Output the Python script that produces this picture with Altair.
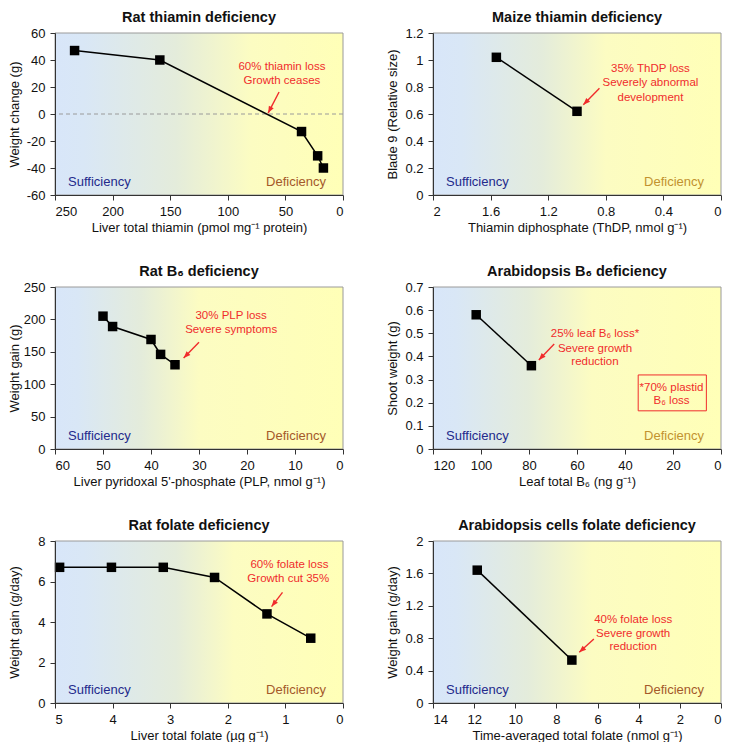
import math
import altair as alt
import pandas as pd

# ---------------- data ----------------
# Panel 1: Rat thiamin deficiency
p1_x = [233, 159, 36, 22, 17]
p1_y = [47, 40, -13, -31, -40]
p1_note_x = [53, 53]
p1_note_y = [34.8, 24.4]
p1_note_t = ["60% thiamin loss", "Growth ceases"]
p1_arrow = [55.5, 16.3, 65, 0.7]  # tail x, tail y, tip x, tip y

# Panel 2: Maize thiamin deficiency
p2_x = [1.56, 1.0]
p2_y = [1.02, 0.62]
p2_note_x = [0.49, 0.49, 0.49]
p2_note_y = [0.934, 0.827, 0.722]
p2_note_t = ["35% ThDP loss", "Severely abnormal", "development"]
p2_arrow = [0.844, 0.79, 0.956, 0.668]

# Panel 3: Rat B6 deficiency
p3_x = [50, 48, 40, 38, 35]
p3_y = [205, 189, 169, 146, 130]
p3_note_x = [23.3, 23.3]
p3_note_y = [204.8, 183.6]
p3_note_t = ["30% PLP loss", "Severe symptoms"]
p3_arrow = [30, 164.6, 33.2, 140.4]

# Panel 4: Arabidopsis B6 deficiency
p4_x = [102, 79]
p4_y = [0.58, 0.36]
p4_note_x = [52.5, 52.5, 52.5]
p4_note_y = [0.497, 0.432, 0.374]
p4_note_t = ["25% leaf B\u2086 loss*", "Severe growth", "reduction"]
p4_arrow = [69.5, 0.454, 75.9, 0.385]
p4_box = [34.5, 0.32, 6.1, 0.165]
p4_box_x = [20.6, 20.6]
p4_box_y = [0.264, 0.207]
p4_box_t = ["*70% plastid", "B\u2086 loss"]

# Panel 5: Rat folate deficiency
p5_x = [4.92, 4.02, 3.12, 2.23, 1.32, 0.56]
p5_y = [6.7, 6.7, 6.7, 6.2, 4.4, 3.2]
p5_note_x = [0.93, 0.95]
p5_note_y = [6.83, 6.12]
p5_note_t = ["60% folate loss", "Growth cut 35%"]
p5_arrow = [1.05, 5.46, 1.24, 4.76]

# Panel 6: Arabidopsis cells folate deficiency
p6_x = [11.85, 7.25]
p6_y = [1.64, 0.53]
p6_note_x = [4.27, 4.27, 4.27]
p6_note_y = [1.028, 0.855, 0.69]
p6_note_t = ["40% folate loss", "Severe growth", "reduction"]
p6_arrow = [6.18, 0.79, 6.89, 0.626]

# ---------------- style ----------------
W, H = 288, 162
FONT = "Liberation Sans"
RED = "#f02c2c"
BLUE_TXT = "#232a8c"
BROWN = "#a4592a"
GOLD = "#c2922f"
ARROW_PATH = "M0,0L0.9,2.3L-0.9,2.3Z"
NOTE_SIZE = 11.5


def gradient(b_end, mid, y_at):
    return {
        "gradient": "linear", "x1": 0, "x2": 1, "y1": 0, "y2": 0,
        "stops": [
            {"offset": 0, "color": "#d8e6f9"},
            {"offset": b_end, "color": "#d9e7f6"},
            {"offset": mid, "color": "#e4ecdb"},
            {"offset": y_at, "color": "#fcfcc2"},
            {"offset": 1, "color": "#ffffb7"},
        ],
    }


def panel(title, xs, ys, xdom, xticks, xtitle, ydom, yticks, ytitle,
          nx, ny, nt, arrow, grad, def_color, xfmt=None, yfmt=None,
          box=None, zero=False):
    xa = dict(values=xticks, title=xtitle, zindex=1)
    ya = dict(values=yticks, title=ytitle, zindex=1,
              labelExpr="replace(datum.label, '\u2212', '-')")
    if xfmt:
        xa["format"] = xfmt
    if yfmt:
        ya["format"] = yfmt
    xe = alt.X("x:Q", scale=alt.Scale(domain=xdom, reverse=True, nice=False, zero=False),
               axis=alt.Axis(**xa))
    ye = alt.Y("y:Q", scale=alt.Scale(domain=ydom, nice=False, zero=False),
               axis=alt.Axis(**ya))
    one = pd.DataFrame({"a": [0]})
    layers = []
    layers.append(alt.Chart(one).mark_rect(fill=grad, stroke="#9a9a9a", strokeWidth=1).encode(
        x=alt.value(0), x2=alt.value("width"), y=alt.value(0), y2=alt.value("height")))
    if zero:
        layers.append(alt.Chart(pd.DataFrame({"y": [0]})).mark_rule(
            color="#9a9a9a", strokeDash=[4, 3], strokeWidth=1).encode(y=ye))
    df = pd.DataFrame({"x": xs, "y": ys})
    layers.append(alt.Chart(df).mark_line(color="black", strokeWidth=1.5).encode(x=xe, y=ye))
    layers.append(alt.Chart(df).mark_point(shape="square", filled=True, size=90,
                                           color="black", opacity=1).encode(x=xe, y=ye))
    ndf = pd.DataFrame({"x": nx, "y": ny, "t": nt})
    layers.append(alt.Chart(ndf).mark_text(color=RED, fontSize=NOTE_SIZE, font=FONT,
                                           align="center", baseline="middle").encode(
        x=xe, y=ye, text="t:N"))
    tx, ty, hx, hy = arrow
    pxx = W / (xdom[1] - xdom[0])
    pxy = H / (ydom[1] - ydom[0])
    dx = -(hx - tx) * pxx
    dy = -(hy - ty) * pxy
    ang = math.degrees(math.atan2(dx, -dy)) % 360
    adf = pd.DataFrame({"x": [tx], "y": [ty], "x2": [hx], "y2": [hy]})
    layers.append(alt.Chart(adf).mark_rule(color=RED, strokeWidth=1.4).encode(
        x=xe, y=ye, x2="x2:Q", y2="y2:Q"))
    hdf = pd.DataFrame({"x": [hx], "y": [hy], "ang": [ang]})
    layers.append(alt.Chart(hdf).mark_point(shape=ARROW_PATH, filled=True, color=RED,
                                            size=36, opacity=1, strokeWidth=0).encode(
        x=xe, y=ye, angle=alt.Angle("ang:Q", scale=None)))
    if box is not None:
        bx1, by1, bx2, by2, bxs, bys, bts = box
        bdf = pd.DataFrame({"x": [bx1], "y": [by1], "x2": [bx2], "y2": [by2]})
        layers.append(alt.Chart(bdf).mark_rect(fillOpacity=0, stroke=RED, strokeWidth=1).encode(
            x=xe, y=ye, x2="x2:Q", y2="y2:Q"))
        btdf = pd.DataFrame({"x": bxs, "y": bys, "t": bts})
        layers.append(alt.Chart(btdf).mark_text(color=RED, fontSize=NOTE_SIZE, font=FONT,
                                                align="center", baseline="middle").encode(
            x=xe, y=ye, text="t:N"))
    layers.append(alt.Chart(one).mark_text(text="Sufficiency", color=BLUE_TXT, fontSize=13,
                                           font=FONT, align="left", baseline="alphabetic").encode(
        x=alt.value(13), y=alt.value(H - 9)))
    layers.append(alt.Chart(one).mark_text(text="Deficiency", color=def_color, fontSize=13,
                                           font=FONT, align="right", baseline="alphabetic").encode(
        x=alt.value(W - 17), y=alt.value(H - 9)))
    return alt.layer(*layers).properties(width=W, height=H, title=title)


c1 = panel("Rat thiamin deficiency", p1_x, p1_y, [0, 250], [0, 50, 100, 150, 200, 250],
           "Liver total thiamin (pmol mg\u207b\u00b9 protein)", [-60, 60],
           [-60, -40, -20, 0, 20, 40, 60], "Weight change (g)",
           p1_note_x, p1_note_y, p1_note_t, p1_arrow, gradient(0.1, 0.42, 0.68), BROWN, zero=True)
c2 = panel("Maize thiamin deficiency", p2_x, p2_y, [0, 2], [0, 0.4, 0.8, 1.2, 1.6, 2],
           "Thiamin diphosphate (ThDP, nmol g\u207b\u00b9)", [0, 1.2],
           [0, 0.2, 0.4, 0.6, 0.8, 1, 1.2], "Blade 9 (Relative size)",
           p2_note_x, p2_note_y, p2_note_t, p2_arrow, gradient(0.1, 0.38, 0.6), GOLD,
           xfmt=".1~f", yfmt=".1~f")
c3 = panel("Rat B\u2086 deficiency", p3_x, p3_y, [0, 60], [0, 10, 20, 30, 40, 50, 60],
           "Liver pyridoxal 5'-phosphate (PLP, nmol g\u207b\u00b9)", [0, 250],
           [0, 50, 100, 150, 200, 250], "Weight gain (g)",
           p3_note_x, p3_note_y, p3_note_t, p3_arrow, gradient(0.08, 0.3, 0.5), BROWN)
c4 = panel("Arabidopsis B\u2086 deficiency", p4_x, p4_y, [0, 120], [0, 20, 40, 60, 80, 100, 120],
           "Leaf total B\u2086 (ng g\u207b\u00b9)", [0, 0.7],
           [0, 0.1, 0.2, 0.3, 0.4, 0.5, 0.6, 0.7], "Shoot weight (g)",
           p4_note_x, p4_note_y, p4_note_t, p4_arrow, gradient(0.08, 0.33, 0.55), GOLD,
           yfmt=".1~f", box=(p4_box[0], p4_box[1], p4_box[2], p4_box[3], p4_box_x, p4_box_y, p4_box_t))
c5 = panel("Rat folate deficiency", p5_x, p5_y, [0, 5], [0, 1, 2, 3, 4, 5],
           "Liver total folate (\u00b5g g\u207b\u00b9)", [0, 8], [0, 2, 4, 6, 8],
           "Weight gain (g/day)",
           p5_note_x, p5_note_y, p5_note_t, p5_arrow, gradient(0.1, 0.42, 0.62), BROWN)
c6 = panel("Arabidopsis cells folate deficiency", p6_x, p6_y, [0, 14], [0, 2, 4, 6, 8, 10, 12, 14],
           "Time-averaged total folate (nmol g\u207b\u00b9)", [0, 2], [0, 0.4, 0.8, 1.2, 1.6, 2],
           "Weight gain (g/day)",
           p6_note_x, p6_note_y, p6_note_t, p6_arrow, gradient(0.08, 0.33, 0.55), BROWN,
           yfmt=".1~f")

chart = alt.concat(c1, c2, c3, c4, c5, c6, columns=2,
                   spacing={"row": 92, "column": 90}, bounds="flush").properties(
    padding={"left": 0, "top": 1, "right": 0, "bottom": 0}
).configure_view(stroke=None).configure_axis(
    labelFont=FONT, titleFont=FONT, labelFontSize=13, titleFontSize=13,
    titleFontWeight="normal", labelColor="#111", titleColor="#111",
    domainColor="#333", tickColor="#333", tickSize=5, grid=False,
).configure_axisY(minExtent=30, maxExtent=30, titlePadding=4, labelPadding=5).configure_axisX(
    labelPadding=5, titlePadding=3
).configure_title(font=FONT, fontSize=14.5, fontWeight="bold", offset=2, anchor="middle",
                  color="#111")

chart.save("out.html", embed_options={"renderer": "svg", "actions": False})
